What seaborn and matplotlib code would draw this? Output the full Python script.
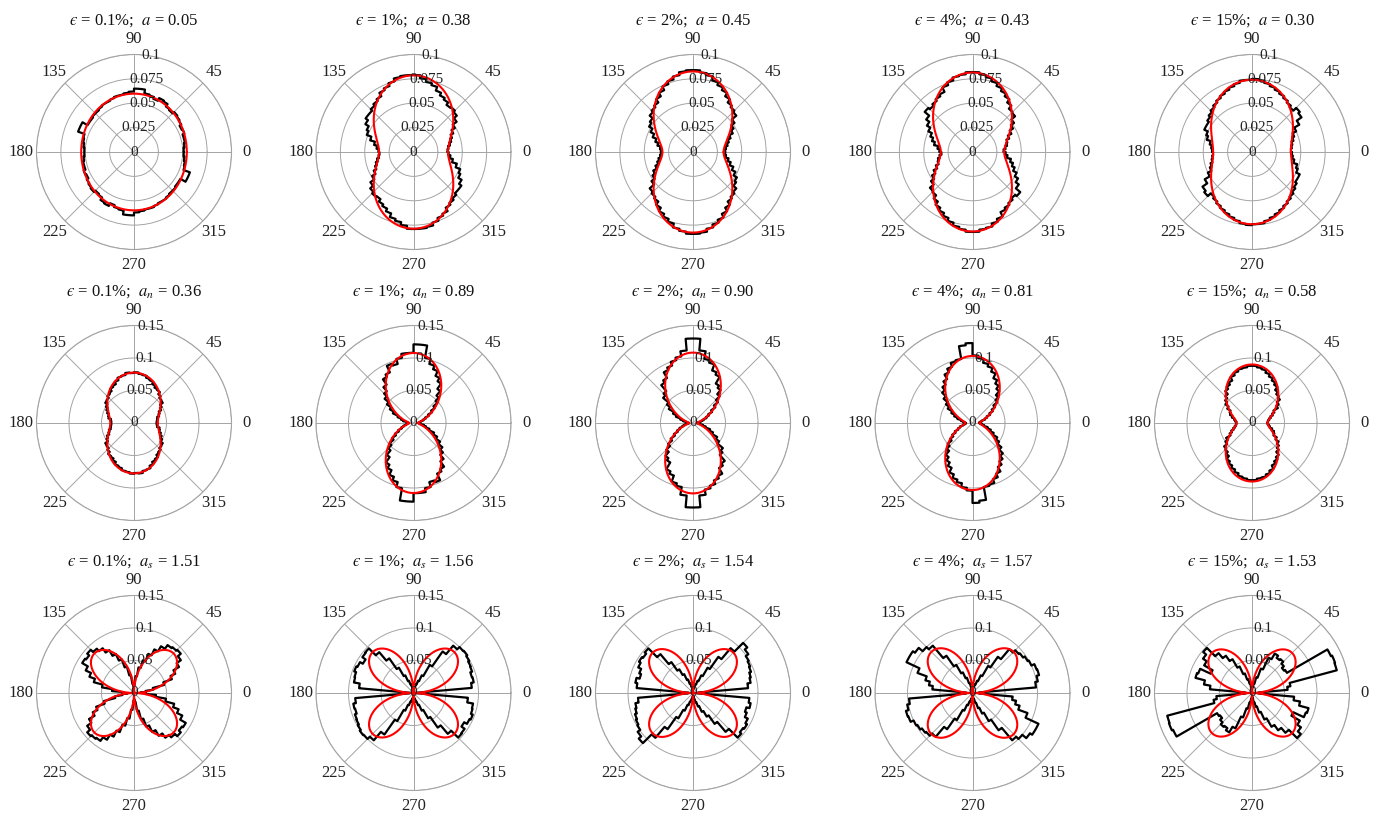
import numpy as np
import matplotlib
matplotlib.use("Agg")
import matplotlib.pyplot as plt
import seaborn as sns

# ---------------------------------------------------------------------------
# Data: angular distributions over 0-175 deg in 5 deg bins (the 180-360 half
# repeats them, since each contact is counted in both directions).
# ---------------------------------------------------------------------------
strain_labels = ["0.1%", "1%", "2%", "4%", "15%"]
a_contact = [0.05, 0.38, 0.45, 0.43, 0.30]
a_normal = [0.36, 0.89, 0.90, 0.81, 0.58]
a_shear = [1.51, 1.56, 1.54, 1.57, 1.53]
mean_level = 0.057  # isotropic level of the fitted Fourier curves

bin_start_deg = list(range(0, 180, 5))

# contact normal distribution E(theta)
contact_e01 = [.051, .052, .053, .053, .055, .054, .056, .057, .058, .056, .057, .060,
               .061, .058, .060, .061, .065, .065, .062, .061, .060, .060, .059, .058,
               .058, .057, .056, .056, .055, .055, .061, .061, .054, .053, .052, .051]
contact_e1 = [.035, .036, .038, .040, .042, .045, .049, .054, .058, .060, .059, .062,
              .064, .067, .071, .073, .076, .079, .079, .079, .078, .075, .072, .070,
              .066, .064, .062, .060, .060, .057, .053, .051, .046, .041, .038, .036]
contact_e2 = [.033, .034, .036, .038, .041, .045, .048, .052, .058, .060, .062, .066,
              .070, .073, .076, .080, .082, .084, .084, .083, .080, .077, .074, .070,
              .066, .062, .060, .058, .054, .052, .048, .044, .040, .037, .034, .033]
contact_e4 = [.032, .034, .036, .037, .040, .044, .048, .052, .057, .058, .062, .066,
              .069, .072, .075, .078, .080, .082, .082, .080, .079, .076, .073, .068,
              .066, .064, .062, .064, .058, .054, .050, .046, .043, .040, .036, .034]
contact_e15 = [.040, .041, .042, .044, .046, .050, .056, .062, .064, .060, .062, .064,
               .066, .068, .070, .072, .074, .075, .074, .074, .072, .070, .068, .066,
               .064, .062, .060, .058, .056, .054, .054, .050, .048, .044, .042, .041]

# mean normal contact force f_n(theta)
normal_f01 = [.035, .036, .037, .040, .042, .046, .049, .054, .055, .058, .062, .063,
              .066, .070, .072, .075, .076, .078, .077, .078, .075, .074, .070, .066,
              .064, .060, .058, .055, .054, .050, .047, .044, .041, .040, .036, .035]
normal_f1 = [.008, .010, .012, .016, .020, .026, .033, .040, .048, .055, .064, .074,
             .080, .088, .094, .102, .121, .121, .108, .108, .102, .094, .097, .086,
             .082, .072, .064, .058, .050, .042, .035, .026, .020, .016, .010, .008]
normal_f2 = [.006, .009, .013, .017, .022, .027, .034, .042, .050, .058, .066, .070,
             .082, .086, .096, .100, .112, .130, .130, .112, .104, .100, .094, .090,
             .080, .076, .064, .060, .049, .043, .034, .028, .020, .015, .010, .007]
normal_f4 = [.010, .012, .015, .020, .024, .030, .036, .042, .050, .056, .064, .070,
             .076, .084, .090, .094, .100, .104, .123, .120, .100, .098, .092, .086,
             .078, .072, .066, .058, .050, .044, .036, .030, .024, .018, .014, .011]
normal_f15 = [.024, .025, .027, .030, .034, .038, .046, .050, .056, .058, .062, .068,
              .072, .076, .080, .084, .086, .088, .088, .086, .085, .082, .078, .072,
              .068, .064, .058, .054, .050, .044, .038, .036, .032, .028, .026, .024]

# mean shear contact force f_s(theta)
shear_f01 = [.010, .018, .030, .048, .062, .070, .080, .088, .094, .092, .090, .083,
             .074, .064, .052, .040, .026, .012, .010, .014, .028, .042, .055, .066,
             .076, .084, .089, .094, .090, .092, .082, .073, .064, .050, .034, .018]
shear_f1 = [.006, .090, .094, .093, .096, .097, .099, .101, .100, .095, .078, .050,
            .030, .020, .014, .010, .007, .004, .004, .007, .010, .014, .020, .030,
            .045, .065, .082, .097, .096, .090, .095, .097, .094, .093, .084, .006]
shear_f2 = [.008, .085, .090, .092, .095, .097, .099, .104, .109, .090, .068, .045,
            .030, .020, .014, .010, .007, .005, .004, .006, .010, .015, .022, .032,
            .042, .058, .078, .097, .094, .096, .093, .088, .085, .090, .087, .007]
shear_f4 = [.010, .098, .102, .106, .105, .100, .098, .095, .093, .088, .068, .048,
            .030, .020, .014, .010, .007, .005, .004, .006, .010, .016, .025, .035,
            .050, .070, .095, .100, .108, .112, .112, .090, .075, .068, .062, .010]
shear_f15 = [.010, .055, .060, .135, .136, .134, .062, .060, .064, .068, .066, .070,
             .060, .040, .025, .015, .010, .006, .004, .008, .015, .022, .032, .045,
             .060, .070, .080, .098, .092, .085, .070, .088, .090, .075, .065, .010]

rows = [
    dict(hists=[contact_e01, contact_e1, contact_e2, contact_e4, contact_e15],
         coef=a_contact, sym="a", kind="contact",
         rticks=[0, 0.025, 0.05, 0.075, 0.1], rlabels=["0", "0.025", "0.05", "0.075", "0.1"]),
    dict(hists=[normal_f01, normal_f1, normal_f2, normal_f4, normal_f15],
         coef=a_normal, sym="a_n", kind="normal",
         rticks=[0, 0.05, 0.1, 0.15], rlabels=["0", "0.05", "0.1", "0.15"]),
    dict(hists=[shear_f01, shear_f1, shear_f2, shear_f4, shear_f15],
         coef=a_shear, sym="a_s", kind="shear",
         rticks=[0, 0.05, 0.1, 0.15], rlabels=["0", "0.05", "0.1", "0.15"]),
]

# ---------------------------------------------------------------------------
sns.set_theme(style="white")
plt.rcParams["font.family"] = ["Liberation Serif", "DejaVu Serif"]
plt.rcParams["mathtext.fontset"] = "stix"

W, H = 1381, 819
fig = plt.figure(figsize=(W / 100, H / 100), dpi=100)

col_cx = [134, 413.5, 693, 972.5, 1252]
row_cy = [152, 423, 693]
rad_px = 97.5

grid_col = "#a4a4a4"
theta_fine = np.linspace(0, 2 * np.pi, 1441)


def step_outline(half, width_deg=5):
    vals = list(half) + list(half)
    th, rr = [], []
    for i, v in enumerate(vals):
        t = np.linspace(i * width_deg, (i + 1) * width_deg, 8)
        th.extend(t)
        rr.extend([v] * len(t))
    th.append(360.0)
    rr.append(vals[0])
    return np.deg2rad(th), np.array(rr)


def fitted_curve(kind, coef):
    if kind == "shear":
        return mean_level * coef * np.abs(np.sin(2 * theta_fine))
    return mean_level * (1 + coef * np.cos(2 * (theta_fine - np.pi / 2)))


for ri, row in enumerate(rows):
    rmax = row["rticks"][-1]
    for ci in range(5):
        cx, cy = col_cx[ci], row_cy[ri]
        ax = fig.add_axes([(cx - rad_px) / W, (H - cy - rad_px) / H,
                           2 * rad_px / W, 2 * rad_px / H], projection="polar")

        th, rr = step_outline(row["hists"][ci])
        sns.lineplot(x=th, y=rr, sort=False, estimator=None, color="black",
                     linewidth=1.6, ax=ax, zorder=3)
        sns.lineplot(x=theta_fine, y=fitted_curve(row["kind"], row["coef"][ci]),
                     sort=False, estimator=None, color="#ff0000", linewidth=1.5,
                     ax=ax, zorder=4)
        ax.set_xlabel("")
        ax.set_ylabel("")

        ax.set_ylim(0, rmax)
        ax.set_yticks(row["rticks"])
        ax.set_yticklabels([])
        ax.set_thetagrids(range(0, 360, 45), [str(d) for d in range(0, 360, 45)])
        ax.tick_params(axis="x", labelsize=12, pad=-2, colors="#222222")
        ax.grid(True, color=grid_col, linewidth=0.7)
        ax.spines["polar"].set_color(grid_col)
        ax.spines["polar"].set_linewidth(0.8)

        for rv, lab in zip(row["rticks"], row["rlabels"]):
            ax.text(np.deg2rad(80), rv, lab, ha="center", va="center",
                    fontsize=11, color="#222222", zorder=5)

        title = "$\u03f5$ = " + strain_labels[ci] + r";  $" + row["sym"] + r"$ = " \
            + f"{row['coef'][ci]:.2f}"
        ax.text(0.5, 1.151, title, transform=ax.transAxes, ha="center",
                va="baseline", fontsize=12, color="#111111")

fig.savefig("out.png", dpi=100)
